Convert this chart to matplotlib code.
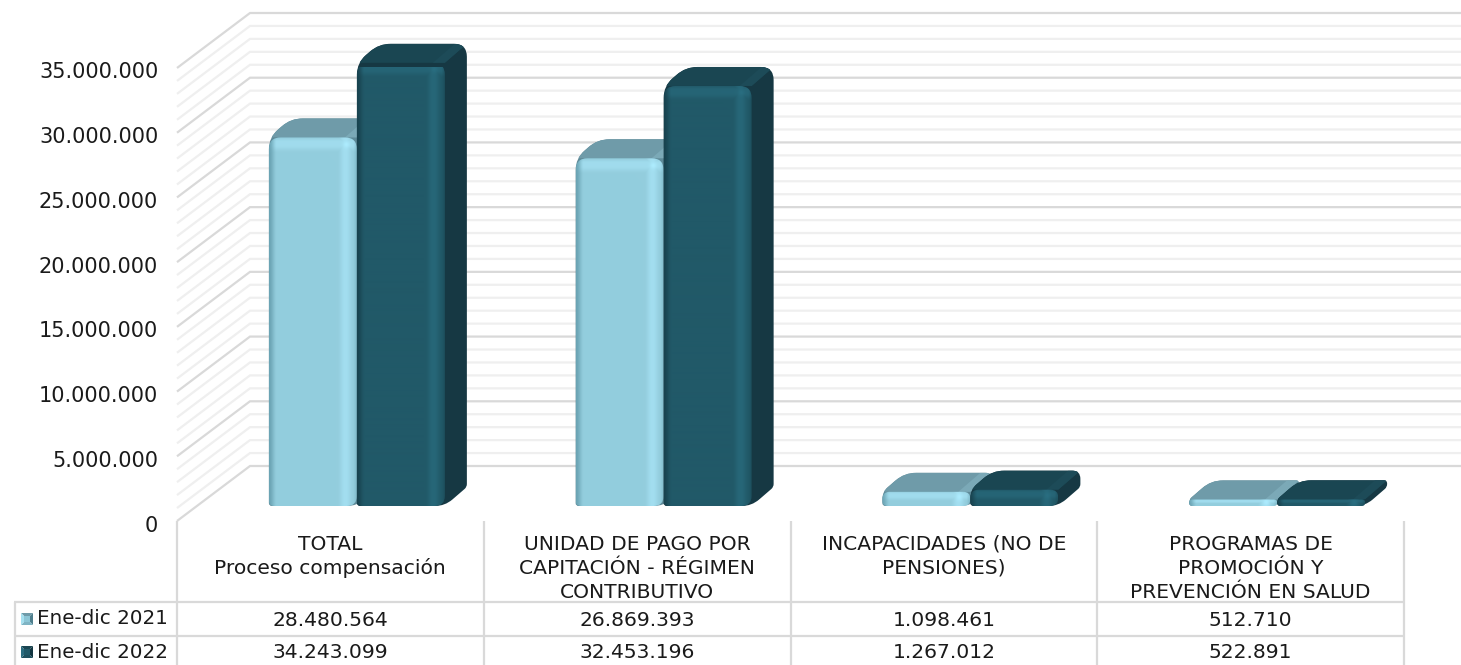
import numpy as np
import matplotlib
matplotlib.use("Agg")
import matplotlib.pyplot as plt
from matplotlib.path import Path
from matplotlib.patches import PathPatch, Polygon
from matplotlib.transforms import IdentityTransform, Affine2D

# ---------- data ----------
categories = ["TOTAL\nProceso compensación",
              "UNIDAD DE PAGO POR\nCAPITACIÓN - RÉGIMEN\nCONTRIBUTIVO",
              "INCAPACIDADES (NO DE\nPENSIONES)",
              "PROGRAMAS DE\nPROMOCIÓN Y\nPREVENCIÓN EN SALUD"]
series_names = ["Ene-dic 2021", "Ene-dic 2022"]
values_2021 = [28480564, 26869393, 1098461, 512710]
values_2022 = [34243099, 32453196, 1267012, 522891]
y_ticks = [0, 5000000, 10000000, 15000000, 20000000, 25000000, 30000000, 35000000]

W, H = 1461, 665
FS = 14.6
TXT = "#1a1a1a"
MAJOR, MINOR, TABLE = "#D9D9D9", "#EFEFEF", "#D9D9D9"

def fmt(v):
    return f"{v:,}".replace(",", ".")

fig = plt.figure(figsize=(W / 100, H / 100), dpi=100, facecolor="white")
plt.rcParams["font.family"] = ["DejaVu Sans"]

L, R, Y0, Y35 = 177, 1404, 521, 68
ax = fig.add_axes([L / W, 1 - Y0 / H, (R - L) / W, (Y0 - Y35) / H])
ax.set_xlim(0, 4)
ax.set_ylim(0, 35e6)
ax.set_autoscale_on(False)
ax.patch.set_visible(False)
for s in ax.spines.values():
    s.set_visible(False)
ax.set_xticks([])
ax.set_yticks(y_ticks)
ax.set_yticklabels([fmt(v) for v in y_ticks], fontsize=15, color=TXT)
ax.tick_params(axis="y", length=0, pad=13.5)
for lbl in ax.get_yticklabels():
    lbl.set_transform(lbl.get_transform() + Affine2D().translate(0, -2.5))

# pixel -> data unit factors
PX = 4 / (R - L)
PY = 35e6 / (Y0 - Y35)

# ---------- walls ----------
wall_dx, wall_dy = 73 * PX, 55 * PY
for v in np.arange(0, 35e6 + 1, 1e6):
    major = (v % 5e6) == 0
    c, lw, z = (MAJOR, 1.6, 1.2) if major else (MINOR, 1.6, 1.1)
    ax.plot([0, wall_dx, 4 + wall_dx], [v, v + wall_dy, v + wall_dy], color=c, lw=lw,
            zorder=z, clip_on=False, solid_capstyle="butt", solid_joinstyle="miter")

# ---------- bars ----------
def rounded(points, radii):
    """closed path through display-space points with rounded corners"""
    pts = np.asarray(points, float)
    n = len(pts)
    verts, codes = [], []
    for i in range(n):
        p, a, b = pts[i], pts[i - 1], pts[(i + 1) % n]
        la, lb = np.linalg.norm(a - p), np.linalg.norm(b - p)
        r = min(radii[i], la / 2, lb / 2)
        s = p + (a - p) / la * r
        e = p + (b - p) / lb * r
        verts += [s, p, e]
        codes += [Path.MOVETO if i == 0 else Path.LINETO, Path.CURVE3, Path.CURVE3]
    verts.append(verts[0])
    codes.append(Path.CLOSEPOLY)
    return Path(np.array(verts), codes)

def smooth(t):
    t = np.clip(t, 0, 1)
    return t * t * (3 - 2 * t)

def bevel(w, h, base, hi, edge):
    w, h = max(int(round(w)), 2), max(int(round(h)), 2)
    xs, ys = np.arange(w) + 0.5, np.arange(h) + 0.5   # ys from top
    img = np.ones((h, w, 3)) * np.array(base)
    # soft right band, falling away at the very edge
    t = smooth((xs - (w - 20)) / 8) * smooth((w - 3 - xs) / 8)
    # soft band along the top; shorter bars get a thinner one
    band = min(16, h * 0.7)
    u = smooth(ys / (band * 0.3)) * smooth((band - ys) / (band * 0.5))
    m = np.maximum(t[None, :] * 0.8, u[:, None] * 0.7)
    img = img + (np.array(hi) - img) * m[..., None]
    # bright corner where the two bands meet
    yy, xx = np.mgrid[0:h, 0:w]
    spec = np.exp(-(((xx - (w - 11)) ** 2 + (yy - min(7, h * 0.35)) ** 2) / 12.0))
    img = img + (np.array(hi) * 1.08 - img) * spec[..., None] * 0.6
    # dark rolled edges left and right
    l = smooth(1 - xs / 8)[None, :]
    img = img + (np.array(edge) - img) * l[..., None] * 0.85
    r = smooth(1 - (w - xs) / 4)[None, :]
    img = img + (np.array(edge) - img) * r[..., None] * 0.35
    return np.clip(img, 0, 1)

def rgb(h):
    return np.array(matplotlib.colors.to_rgb(h))

styles = [
    dict(front=rgb("#93CDDD"), hi=rgb("#A6E2F4"), edge=rgb("#649DAD"), top="#6F9BA9",
         side="#5E8A98", band="#7BA9B7"),
    dict(front=rgb("#215968"), hi=rgb("#286A7C"), edge=rgb("#173F4B"), top="#1A4652",
         side="#163843", band="#1D4B58"),
]

bar_w = 88 * PX
bar_off_x, bar_off_y = 26.5 * PX, 15 * PY
depth_x, depth_y = 22 * PX, 19 * PY

zc = 3.0
def draw_bar(center, side_sign, value, st):
    global zc
    x0 = center + bar_off_x + (0 if side_sign > 0 else -bar_w)
    x1 = x0 + bar_w
    y0, y1 = bar_off_y, bar_off_y + value
    to_d = ax.transData.transform
    (a, b), (c, d) = to_d((x0, y0)), to_d((x1, y1))
    dx, dy = depth_x / PX, depth_y / PY
    idt = IdentityTransform()
    sil = rounded([(a, b), (a, d), (a + dx, d + dy), (c + dx, d + dy), (c + dx, b + dy), (c, b)],
                  [3, 12, 12, 13, 3, 10])
    ax.add_patch(PathPatch(sil, transform=idt, fc=st["side"], ec="none", zorder=zc, clip_on=False))
    top = Polygon([(a, d), (a + dx, d + dy), (c + dx, d + dy), (c, d)], closed=True,
                  transform=idt, fc=st["top"], ec="none", zorder=zc + 0.01)
    ax.add_patch(top)
    top.set_clip_path(sil, idt)
    top.set_clip_box(None)
    band = Polygon([(c - 12, d), (c - 12 + dx, d + dy), (c + dx, d + dy), (c, d)], closed=True,
                   transform=idt, fc=st["band"], ec="none", zorder=zc + 0.015)
    ax.add_patch(band)
    band.set_clip_path(sil, idt)
    band.set_clip_box(None)
    face = rounded([(a, b), (a, d), (c, d), (c, b)], [5, 12, 12, 10])
    im = ax.imshow(bevel(c - a, d - b, st["front"], st["hi"], st["edge"]),
                   extent=(x0, x1, y0, y1), origin="upper", aspect="auto",
                   interpolation="bilinear", zorder=zc + 0.02)
    im.set_clip_path(face, idt)
    im.set_clip_box(None)
    zc += 0.1

for i, (v1, v2) in enumerate(zip(values_2021, values_2022)):
    center = i + 0.5
    draw_bar(center, -1, v1, styles[0])
    draw_bar(center, 1, v2, styles[1])

ax.set_xlim(0, 4)
ax.set_ylim(0, 35e6)

# ---------- data table (pixel overlay) ----------
ov = fig.add_axes([0, 0, 1, 1])
ov.set_xlim(0, W)
ov.set_ylim(H, 0)
ov.axis("off")
ov.patch.set_visible(False)

col_x = [L + (R - L) * k / 4 for k in range(5)]
LW = 1.6
for x in col_x:
    ov.plot([x, x], [Y0, H], color=TABLE, lw=LW, solid_capstyle="butt")
ov.plot([14.5, 14.5], [602, H], color=TABLE, lw=LW, solid_capstyle="butt")
for y in (602, 636):
    ov.plot([14, R], [y, y], color=TABLE, lw=LW, solid_capstyle="butt")

for k, name in enumerate(categories):
    cx = (col_x[k] + col_x[k + 1]) / 2
    for j, line in enumerate(name.split("\n")):
        ov.text(cx, 544 + j * 24.5, line, ha="center", va="center", fontsize=FS, color=TXT)

rows_y = [620, 653]
for ry, vals in zip(rows_y, (values_2021, values_2022)):
    for k, v in enumerate(vals):
        ov.text((col_x[k] + col_x[k + 1]) / 2, ry, fmt(v), ha="center", va="center",
                fontsize=FS, color=TXT)

key_cols = [dict(c="#8CC6D6", l="#A6E0F0", r="#4F7F8D", t="#6F9BA9", b="#7FB4C4"),
            dict(c="#215968", l="#2B6C7F", r="#123540", t="#1A4652", b="#1E505E")]
for ry, name, kc in zip(rows_y, series_names, key_cols):
    x0, x1, y0, y1 = 21, 33, ry - 7, ry + 5
    xa, xb, ya, yb = x0 + 3, x1 - 3, y0 + 3, y1 - 3
    ov.add_patch(Polygon([(x0, y0), (x1, y0), (xb, ya), (xa, ya)], fc=kc["t"], ec="none"))
    ov.add_patch(Polygon([(x1, y0), (x1, y1), (xb, yb), (xb, ya)], fc=kc["r"], ec="none"))
    ov.add_patch(Polygon([(x0, y1), (x1, y1), (xb, yb), (xa, yb)], fc=kc["b"], ec="none"))
    ov.add_patch(Polygon([(x0, y0), (x0, y1), (xa, yb), (xa, ya)], fc=kc["l"], ec="none"))
    ov.add_patch(Polygon([(xa, ya), (xb, ya), (xb, yb), (xa, yb)], fc=kc["c"], ec="none"))
    ov.text(37, ry - 1, name, ha="left", va="center", fontsize=14.3, color=TXT)

fig.savefig("out.png", dpi=100, facecolor="white")
